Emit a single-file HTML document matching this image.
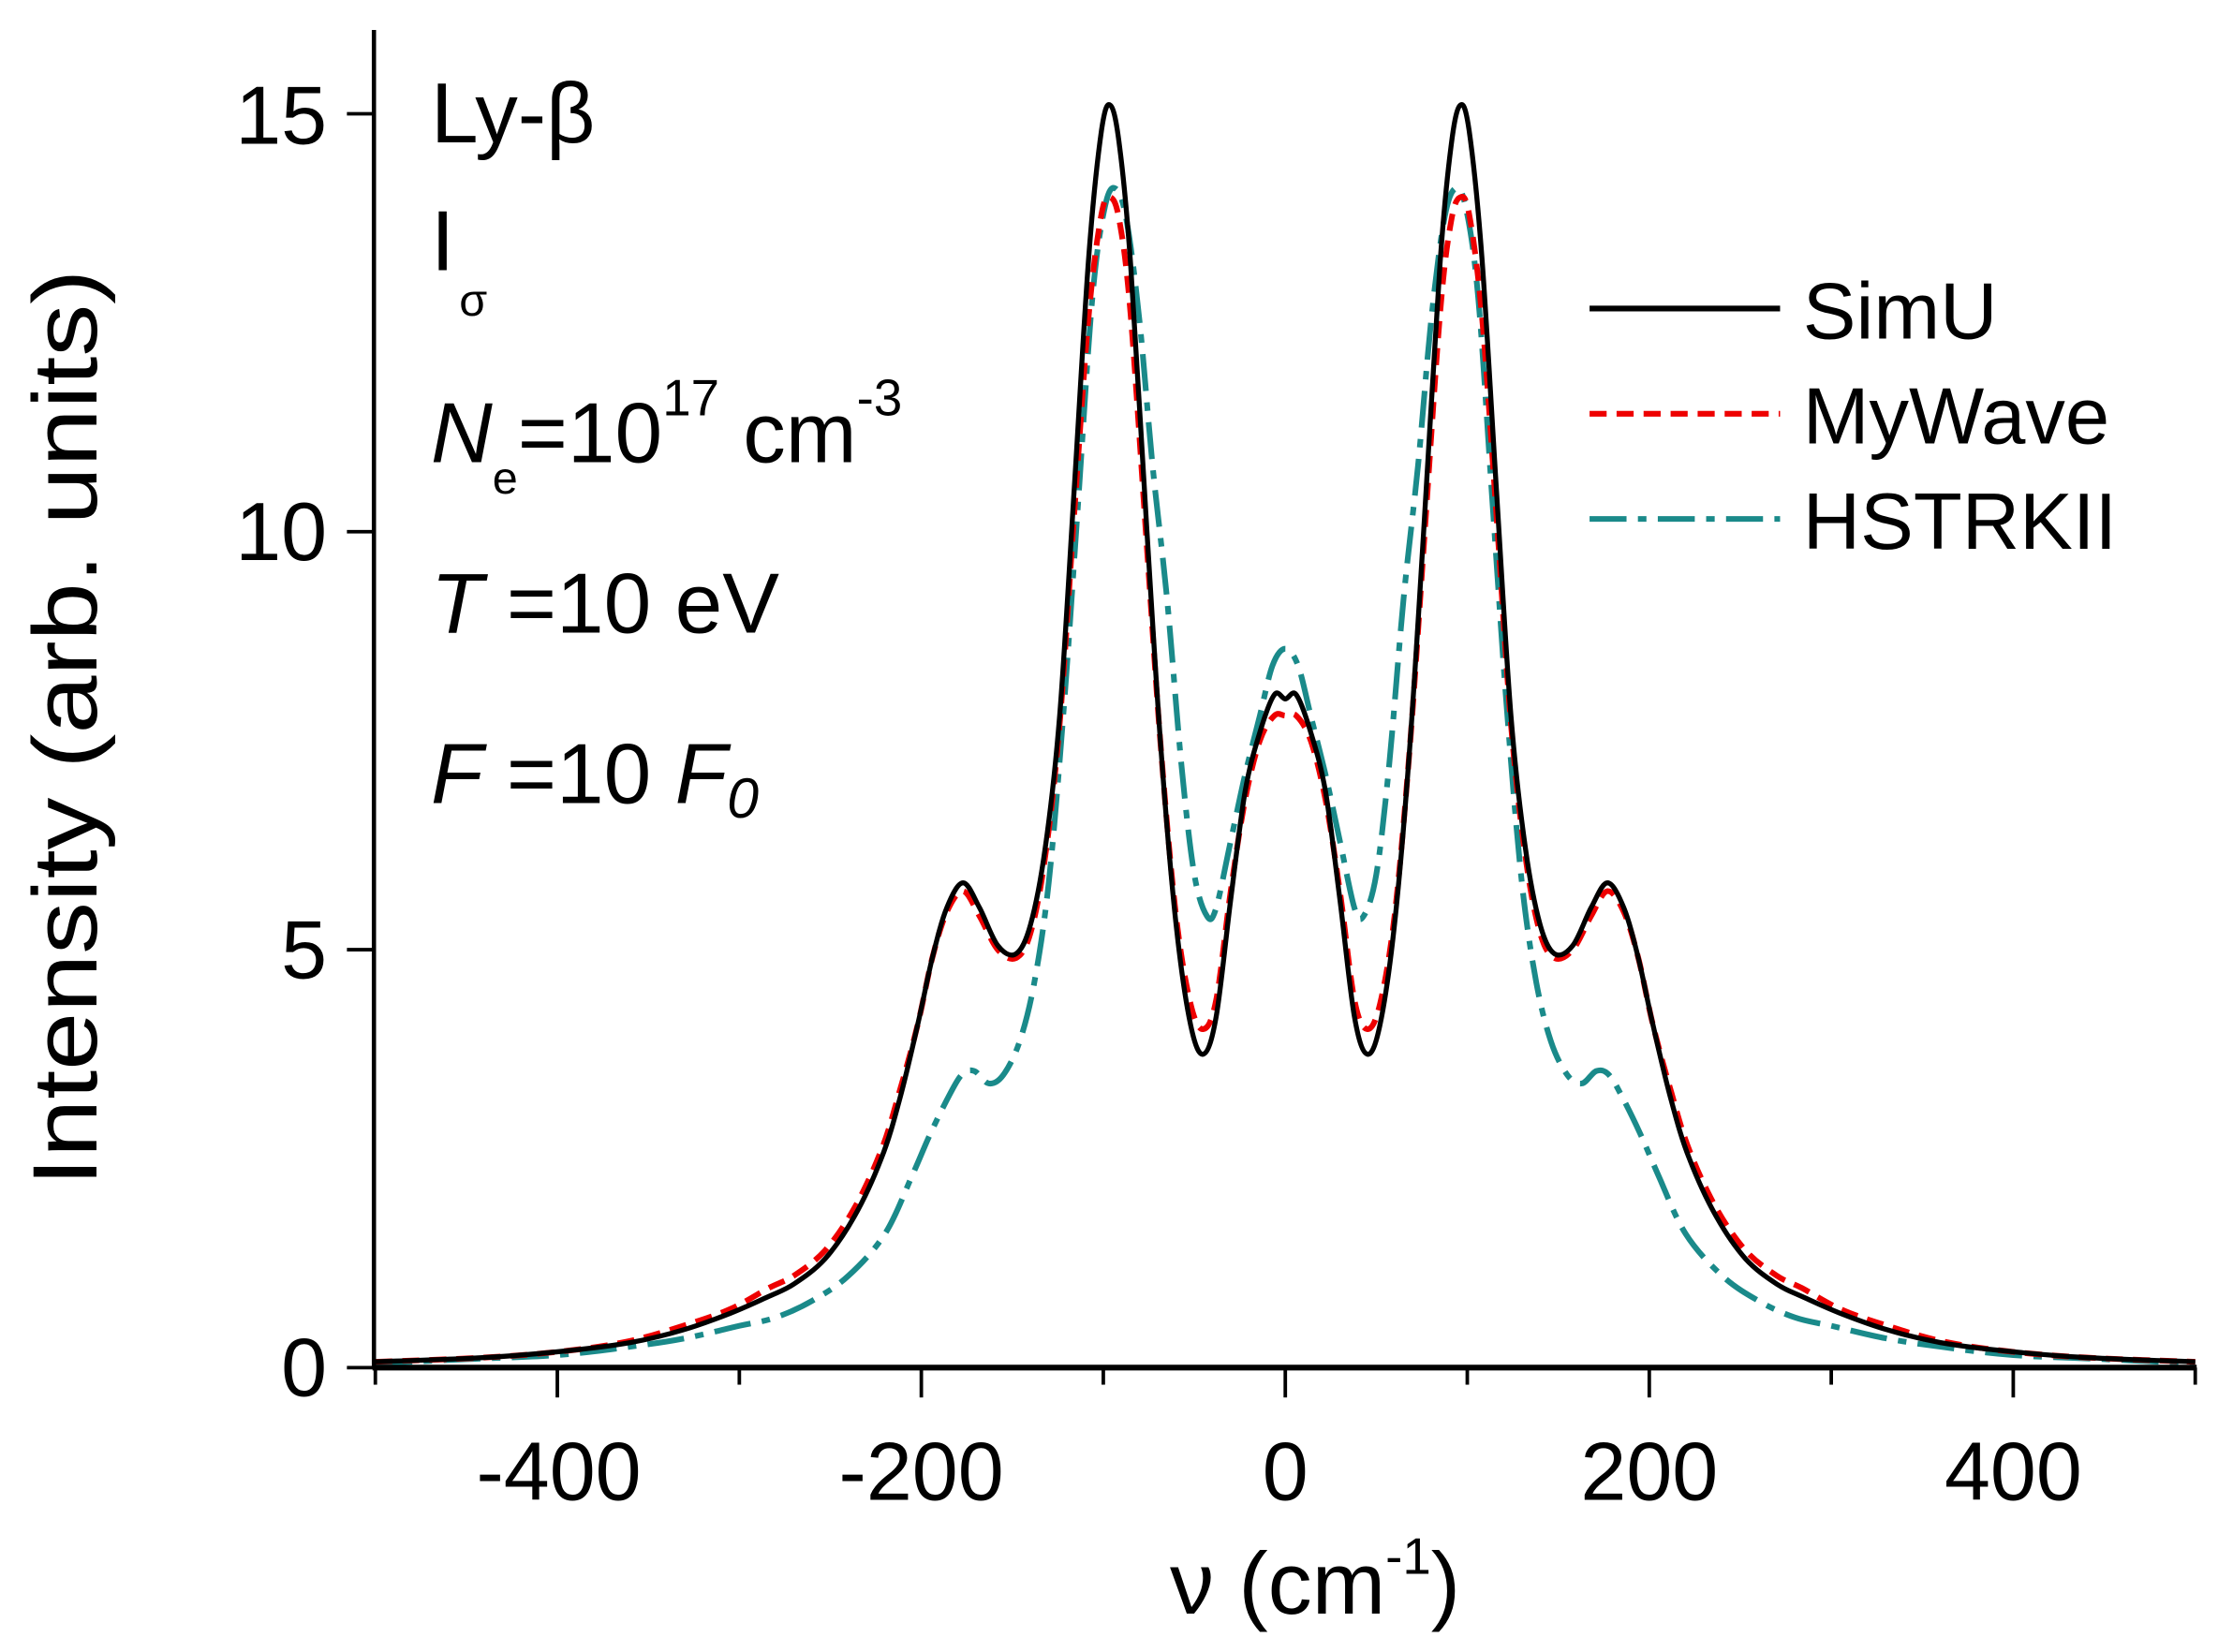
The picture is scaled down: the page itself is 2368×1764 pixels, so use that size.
<!DOCTYPE html>
<html><head><meta charset="utf-8"><style>
html,body{margin:0;padding:0;background:#fff;}
svg{display:block;font-family:"Liberation Sans",Arial,sans-serif;}
</style></head><body>
<svg id="s" width="2368" height="1764" viewBox="0 0 1560 1162" xmlns="http://www.w3.org/2000/svg">
<rect width="1560" height="1162" fill="#fff"/>
<g id="curves" fill="none" stroke-linejoin="round"></g>
<line x1="263" y1="21" x2="263" y2="963" stroke="#000" stroke-width="3"/>
<line x1="262" y1="962" x2="1545" y2="962" stroke="#000" stroke-width="4"/>
<g stroke="#000" stroke-width="2.5" id="ticks"></g>
<g font-size="58" fill="#000">
<text x="230" y="101" text-anchor="end">15</text>
<text x="230" y="394" text-anchor="end">10</text>
<text x="230" y="688" text-anchor="end">5</text>
<text x="230" y="982" text-anchor="end">0</text>
<text x="393" y="1055" text-anchor="middle">-400</text>
<text x="648" y="1055" text-anchor="middle">-200</text>
<text x="904" y="1055" text-anchor="middle">0</text>
<text x="1160" y="1055" text-anchor="middle">200</text>
<text x="1416" y="1055" text-anchor="middle">400</text>
<text x="925" y="1135" text-anchor="middle" font-size="62">ν (cm<tspan font-size="36" dy="-28">-1</tspan><tspan dy="28">)</tspan></text>
<text transform="translate(68,512) rotate(-90)" text-anchor="middle" font-size="64" textLength="645" lengthAdjust="spacingAndGlyphs">Intensity (arb. units)</text>
<text x="303" y="100" font-size="60">Ly-β</text>
<text x="303" y="190" font-size="60">I</text>
<text x="323" y="222" font-size="32">σ</text>
<text x="303" y="325" font-size="60"><tspan font-style="italic">N</tspan><tspan font-size="32" dy="22">e</tspan><tspan dy="-22">=10</tspan><tspan font-size="36" dy="-33">17</tspan><tspan dy="33"> cm</tspan><tspan font-size="36" dy="-33">-3</tspan></text>
<text x="303" y="445" font-size="60"><tspan font-style="italic">T</tspan> =10 eV</text>
<text x="303" y="565" font-size="60"><tspan font-style="italic">F</tspan> =10 <tspan font-style="italic">F</tspan><tspan font-style="italic" font-size="40" dy="10">0</tspan></text>
</g>
<line x1="1118" y1="217" x2="1252" y2="217" stroke="#000" stroke-width="4"/>
<line x1="1118" y1="291" x2="1252" y2="291" stroke="#e00" stroke-width="4" stroke-dasharray="12,7"/>
<line x1="1118" y1="365" x2="1252" y2="365" stroke="#1a8a8a" stroke-width="4" stroke-dasharray="26,8,6,8"/>
<g font-size="56" fill="#000">
<text x="1268" y="238">SimU</text>
<text x="1268" y="312">MyWave</text>
<text x="1268" y="386">HSTRKII</text>
</g>
</svg>
<script>
var NS="http://www.w3.org/2000/svg";
function X(v){return 904+v*1.28;}
function Y(i){return 962-i*58.8;}
var tk=document.getElementById('ticks');
function ln(x1,y1,x2,y2){var l=document.createElementNS(NS,'line');l.setAttribute('x1',x1);l.setAttribute('y1',y1);l.setAttribute('x2',x2);l.setAttribute('y2',y2);tk.appendChild(l);}
for(var v=-500;v<=500;v+=100){var maj=(v%200===0);ln(X(v),962,X(v),962+(maj?21:12));}
[0,5,10,15].forEach(function(i){ln(244,Y(i),263,Y(i));});
var simu=[[0,8.0],[6,8.05],[14,7.6],[22,6.9],[30,5.6],[38,4.2],[45,3.75],[52,4.1],[60,5.3],[68,7.3],[76,10],[85,13.2],[91,14.6],[96,15.1],[101,14.8],[108,13.3],[116,10.5],[124,7.8],[132,6.2],[140,5.3],[148,4.95],[158,5.05],[168,5.5],[177,5.8],[186,5.5],[194,4.9],[202,4.1],[212,3.2],[222,2.5],[237,1.8],[253,1.3],[270,1.0],[284,0.85],[305,0.65],[331,0.45],[360,0.3],[395,0.2],[440,0.12],[500,0.07]];
var mywave=[[0,7.8],[6,7.8],[14,7.5],[22,6.8],[30,5.7],[38,4.4],[45,4.05],[52,4.35],[60,5.4],[68,7.3],[76,9.8],[85,12.6],[91,13.7],[96,14.0],[101,13.8],[108,12.6],[116,10.2],[124,7.7],[132,6.1],[140,5.2],[148,4.9],[158,5.0],[168,5.4],[177,5.7],[186,5.45],[194,4.9],[202,4.1],[212,3.3],[222,2.6],[237,1.9],[253,1.4],[270,1.1],[284,0.95],[305,0.7],[331,0.5],[360,0.32],[395,0.2],[440,0.12],[500,0.07]];
var hst=[[0,8.6],[7,8.4],[14,7.8],[22,7.1],[30,6.3],[38,5.5],[43,5.4],[50,5.9],[57,7.2],[65,9.2],[73,10.8],[80,12.5],[87,13.7],[93,14.1],[99,13.9],[106,12.8],[114,10.3],[122,7.8],[130,5.8],[138,4.6],[146,3.9],[155,3.5],[163,3.4],[171,3.55],[178,3.5],[186,3.2],[195,2.8],[205,2.3],[220,1.6],[240,1.1],[260,0.8],[280,0.6],[300,0.5],[330,0.35],[360,0.25],[400,0.15],[450,0.1],[500,0.05]];
function full(p){var a=[];for(var i=p.length-1;i>0;i--)a.push([-p[i][0],p[i][1]]);return a.concat(p);}
function path(p){p=full(p);var d="M"+X(p[0][0]).toFixed(1)+","+Y(p[0][1]).toFixed(1);
for(var i=0;i<p.length-1;i++){var p0=p[Math.max(0,i-1)],p1=p[i],p2=p[i+1],p3=p[Math.min(p.length-1,i+2)];
var x1=X(p1[0]),y1=Y(p1[1]),x2=X(p2[0]),y2=Y(p2[1]);
var c1x=x1+(X(p2[0])-X(p0[0]))/6,c1y=y1+(Y(p2[1])-Y(p0[1]))/6,c2x=x2-(X(p3[0])-X(p1[0]))/6,c2y=y2-(Y(p3[1])-Y(p1[1]))/6;
d+=" C"+c1x.toFixed(1)+","+c1y.toFixed(1)+" "+c2x.toFixed(1)+","+c2y.toFixed(1)+" "+x2.toFixed(1)+","+y2.toFixed(1);}
return d;}
var g=document.getElementById('curves');
function add(p,col,w,da){var e=document.createElementNS(NS,'path');e.setAttribute('d',path(p));e.setAttribute('stroke',col);e.setAttribute('stroke-width',w);if(da)e.setAttribute('stroke-dasharray',da);g.appendChild(e);}
add(hst,'#1a8a8a',4,'26,8,6,8');
add(mywave,'#e00',4,'12,7');
add(simu,'#000',3.5,null);
</script>
</body></html>
